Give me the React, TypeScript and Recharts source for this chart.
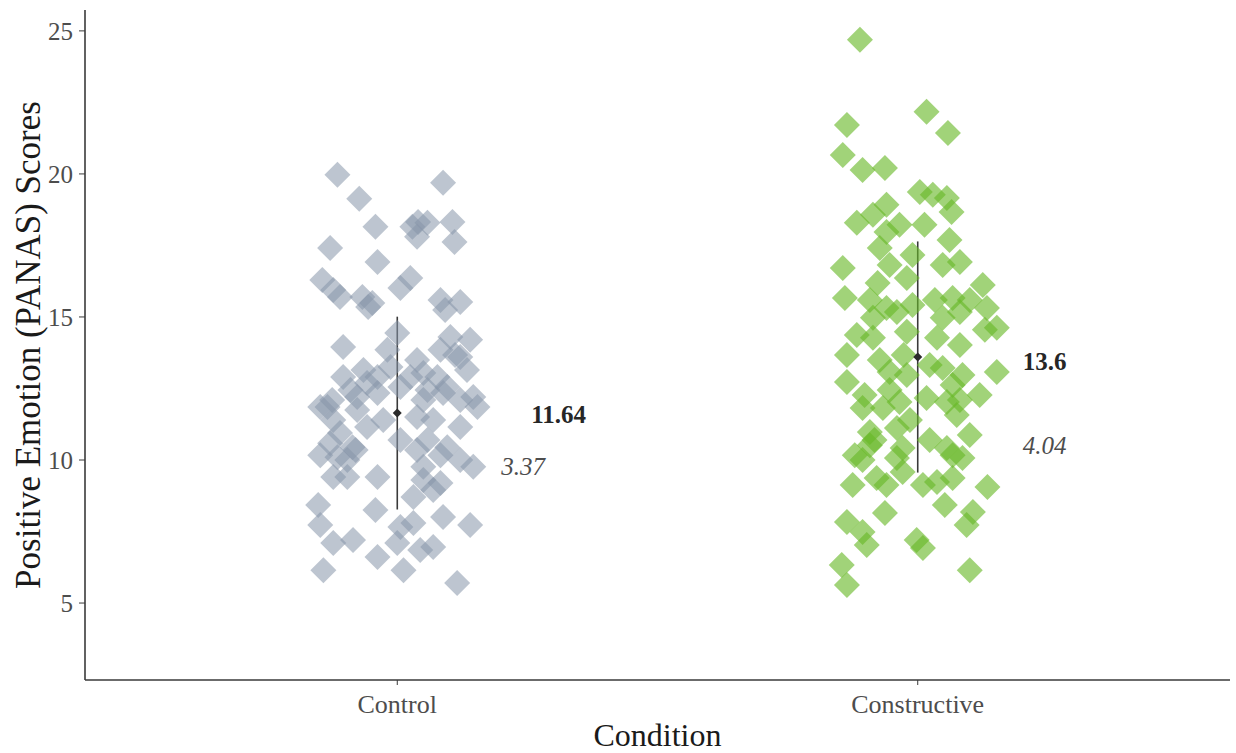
import { ScatterChart, Scatter, XAxis, YAxis, ErrorBar } from 'recharts';

// condition names and positions on the x axis
const conditions = ['Control', 'Constructive'];
const conditionPos = [1, 2];
const yTicks = [5, 10, 15, 20, 25];

// jittered points: horizontal jitter (in category units) and PANAS score
const controlJitter = [
    -0.115, -0.073, 0.088, -0.042, 0.040, 0.029, 0.058, 0.038, 0.106, 0.110,
    -0.129, -0.038, -0.144, -0.123, -0.110, -0.067, -0.048, 0.025, 0.006, 0.083,
    0.121, -0.056, 0.092, -0.104, -0.019, -0.013, 0.102, 0.140, 0.083, -0.065,
    -0.104, -0.038, 0.050, 0.077, 0.134, -0.134, -0.077, -0.038, -0.123, 0.058,
    0.088, 0.121, 0.154, 0.038, 0.069, 0.121, -0.110, -0.058, -0.027, 0.058,
    -0.129, -0.115, -0.096, -0.123, -0.096, -0.038, 0.038, 0.050, 0.083, 0.069,
    0.121, 0.146, 0.031, -0.152, -0.148, -0.042, 0.088, 0.140, -0.085, -0.123,
    0.000, 0.006, 0.031, 0.069, 0.044, -0.038, -0.142, 0.012, 0.115, 0.111,
    -0.086, 0.006, 0.096, -0.148, -0.125, -0.077, -0.058, -0.090, 0.025, 0.050,
    0.038, 0.096, 0.146, 0.006, 0.000, 0.121, -0.080, 0.083, 0.050, -0.148,
];
const controlScores = [
    19.97, 19.13, 19.69, 18.15, 18.32, 18.15, 18.29, 17.80, 18.32, 17.62,
    17.41, 16.92, 16.29, 15.94, 15.70, 15.70, 15.49, 16.36, 16.01, 15.59,
    15.52, 15.35, 15.24, 13.95, 13.85, 13.25, 14.30, 14.20, 13.85, 13.15,
    12.90, 12.90, 13.04, 12.90, 13.15, 11.85, 12.20, 12.34, 11.40, 12.45,
    12.34, 12.10, 11.85, 11.50, 11.40, 11.15, 10.94, 11.15, 11.40, 10.70,
    10.59, 10.10, 10.00, 9.41, 9.41, 9.41, 10.35, 9.76, 9.20, 8.95,
    10.00, 9.76, 8.71, 8.43, 7.73, 8.25, 8.01, 7.73, 7.20, 7.10,
    7.10, 7.66, 7.80, 6.96, 6.85, 6.61, 6.15, 6.15, 5.70, 13.67,
    10.45, 10.70, 10.45, 11.85, 12.10, 11.75, 12.69, 12.45, 12.90, 12.10,
    13.50, 12.55, 12.20, 12.55, 14.44, 13.60, 10.35, 10.17, 9.30, 10.17,
];

const constructiveJitter = [
    -0.111, -0.136, 0.017, 0.058, -0.144, -0.106, -0.063, 0.004, 0.029, 0.056,
    0.065, -0.060, -0.086, -0.117, -0.035, -0.060, 0.061, -0.073, -0.010, -0.144,
    0.081, 0.048, -0.077, -0.021, 0.125, -0.140, 0.067, -0.060, -0.010, 0.133,
    -0.086, -0.040, 0.048, 0.081, 0.152, -0.117, -0.086, -0.021, 0.037, -0.136,
    -0.027, -0.136, -0.054, -0.021, 0.048, 0.086, 0.067, 0.152, 0.119, -0.106,
    -0.067, -0.035, 0.017, 0.056, 0.075, -0.092, -0.040, -0.029, 0.056, 0.100,
    -0.092, -0.040, -0.029, 0.067, 0.086, -0.125, -0.079, -0.060, 0.010, 0.037,
    0.067, 0.134, -0.063, -0.136, -0.106, 0.106, 0.094, -0.002, 0.010, -0.098,
    -0.146, -0.136, 0.100, -0.106, -0.102, -0.073, 0.023, 0.081, -0.083, 0.023,
    -0.015, 0.129, -0.092, 0.033, 0.081, -0.054, 0.013, 0.100, -0.121, 0.052,
    -0.054,
];
const constructiveScores = [
    24.69, 21.71, 22.17, 21.43, 20.66, 20.14, 20.21, 19.37, 19.27, 19.16,
    18.67, 18.92, 18.57, 18.29, 18.22, 17.97, 17.69, 17.41, 17.17, 16.71,
    16.92, 16.82, 16.19, 16.36, 16.12, 15.66, 15.66, 15.31, 15.42, 15.31,
    14.97, 15.17, 14.97, 15.17, 14.62, 14.37, 14.27, 14.48, 14.27, 13.67,
    13.67, 12.73, 13.08, 12.97, 13.22, 12.97, 12.62, 13.08, 12.27, 11.82,
    11.82, 12.03, 12.17, 12.03, 11.57, 10.98, 11.12, 10.42, 10.42, 10.87,
    10.52, 10.07, 9.58, 10.17, 10.07, 9.13, 9.37, 9.13, 9.13, 9.23,
    9.37, 9.06, 8.15, 7.83, 7.48, 8.18, 7.73, 7.20, 6.92, 7.03,
    6.33, 5.63, 6.15, 10.00, 12.27, 13.50, 13.32, 12.10, 10.70, 10.70,
    11.40, 14.55, 15.59, 15.59, 14.02, 16.82, 18.22, 15.59, 10.17, 8.43,
    12.45,
];

// summary statistics
const means = [11.64, 13.6];
const sds = [3.37, 4.04];

// where the mean / sd labels sit (data units)
const meanLabelX = [1.31, 2.244];
const meanLabelY = [11.58, 13.46];
const sdLabelX = [1.242, 2.244];
const sdLabelY = [9.79, 10.49];

const FONT = '"Liberation Serif", "DejaVu Serif", serif';

const controlData = controlScores.map((y, i) => ({ x: conditionPos[0] + controlJitter[i], y }));
const constructiveData = constructiveScores.map((y, i) => ({ x: conditionPos[1] + constructiveJitter[i], y }));
const meanData = means.map((m, i) => ({ x: conditionPos[i], y: m, sd: sds[i] }));
const labelData = [
    ...means.map((m, i) => ({ x: meanLabelX[i], y: meanLabelY[i], text: String(m), kind: 'mean' })),
    ...sds.map((s, i) => ({ x: sdLabelX[i], y: sdLabelY[i], text: s.toFixed(2), kind: 'sd' })),
];

function makeDiamond(r: number, fill: string, opacity: number) {
    return (props: any) => {
        const { cx, cy } = props;
        if (cx == null || cy == null) return <g />;
        return (
            <path
                d={`M${cx},${cy - r}L${cx + r},${cy}L${cx},${cy + r}L${cx - r},${cy}Z`}
                fill={fill}
                fillOpacity={opacity}
                stroke="none"
            />
        );
    };
}

const StatLabel = (props: any) => {
    const { cx, cy, payload } = props;
    if (cx == null || cy == null) return <g />;
    const isMean = payload.kind === 'mean';
    return (
        <text
            x={cx}
            y={cy}
            textAnchor="middle"
            dominantBaseline="central"
            fontFamily={FONT}
            fontSize={25}
            fontWeight={isMean ? 'bold' : 'normal'}
            fontStyle={isMean ? 'normal' : 'italic'}
            fill={isMean ? '#262626' : '#4d4d4d'}
        >
            {payload.text}
        </text>
    );
};

export default function App() {
    return (
        <div style={{ position: 'absolute', left: 0, top: 0, width: 1236, height: 753, background: '#fff' }}>
            <ScatterChart width={1236} height={753} margin={{ top: 10, right: 6, bottom: 0, left: 0 }}>
                <XAxis
                    type="number"
                    dataKey="x"
                    domain={[0.4, 2.6]}
                    ticks={conditionPos}
                    tickFormatter={(v: number) => conditions[conditionPos.indexOf(v)] ?? ''}
                    height={73}
                    axisLine={{ stroke: '#3a3a3a', strokeWidth: 1.6 }}
                    tickLine={{ stroke: '#3a3a3a' }}
                    tickSize={5}
                    tickMargin={10}
                    tick={{ fontFamily: FONT, fontSize: 26, fill: '#4d4d4d' }}
                    allowDataOverflow
                    label={{
                        value: 'Condition',
                        position: 'insideBottom',
                        offset: 7,
                        style: { fontFamily: FONT, fontSize: 32, fill: '#1a1a1a' },
                    }}
                />
                <YAxis
                    type="number"
                    dataKey="y"
                    domain={[2.31, 25.73]}
                    ticks={yTicks}
                    width={85}
                    axisLine={{ stroke: '#3a3a3a', strokeWidth: 1.6 }}
                    tickLine={{ stroke: '#3a3a3a' }}
                    tickSize={6}
                    tickMargin={6}
                    tick={{ fontFamily: FONT, fontSize: 25, fill: '#4d4d4d' }}
                    allowDataOverflow
                    label={{
                        value: 'Positive Emotion (PANAS) Scores',
                        angle: -90,
                        position: 'insideLeft',
                        offset: 28,
                        style: { fontFamily: FONT, fontSize: 35, fill: '#1a1a1a', textAnchor: 'middle' },
                    }}
                />
                <Scatter
                    name="Control"
                    data={controlData}
                    shape={makeDiamond(13, '#8795aa', 0.55)}
                    isAnimationActive={false}
                />
                <Scatter
                    name="Constructive"
                    data={constructiveData}
                    shape={makeDiamond(13, '#68b826', 0.62)}
                    isAnimationActive={false}
                />
                <Scatter
                    name="Mean"
                    data={meanData}
                    shape={makeDiamond(4.5, '#2b2b2b', 1)}
                    isAnimationActive={false}
                >
                    <ErrorBar dataKey="sd" direction="y" width={0} stroke="#3a3a3a" strokeWidth={1.6} />
                </Scatter>
                <Scatter name="Labels" data={labelData} shape={StatLabel} isAnimationActive={false} />
            </ScatterChart>
        </div>
    );
}
